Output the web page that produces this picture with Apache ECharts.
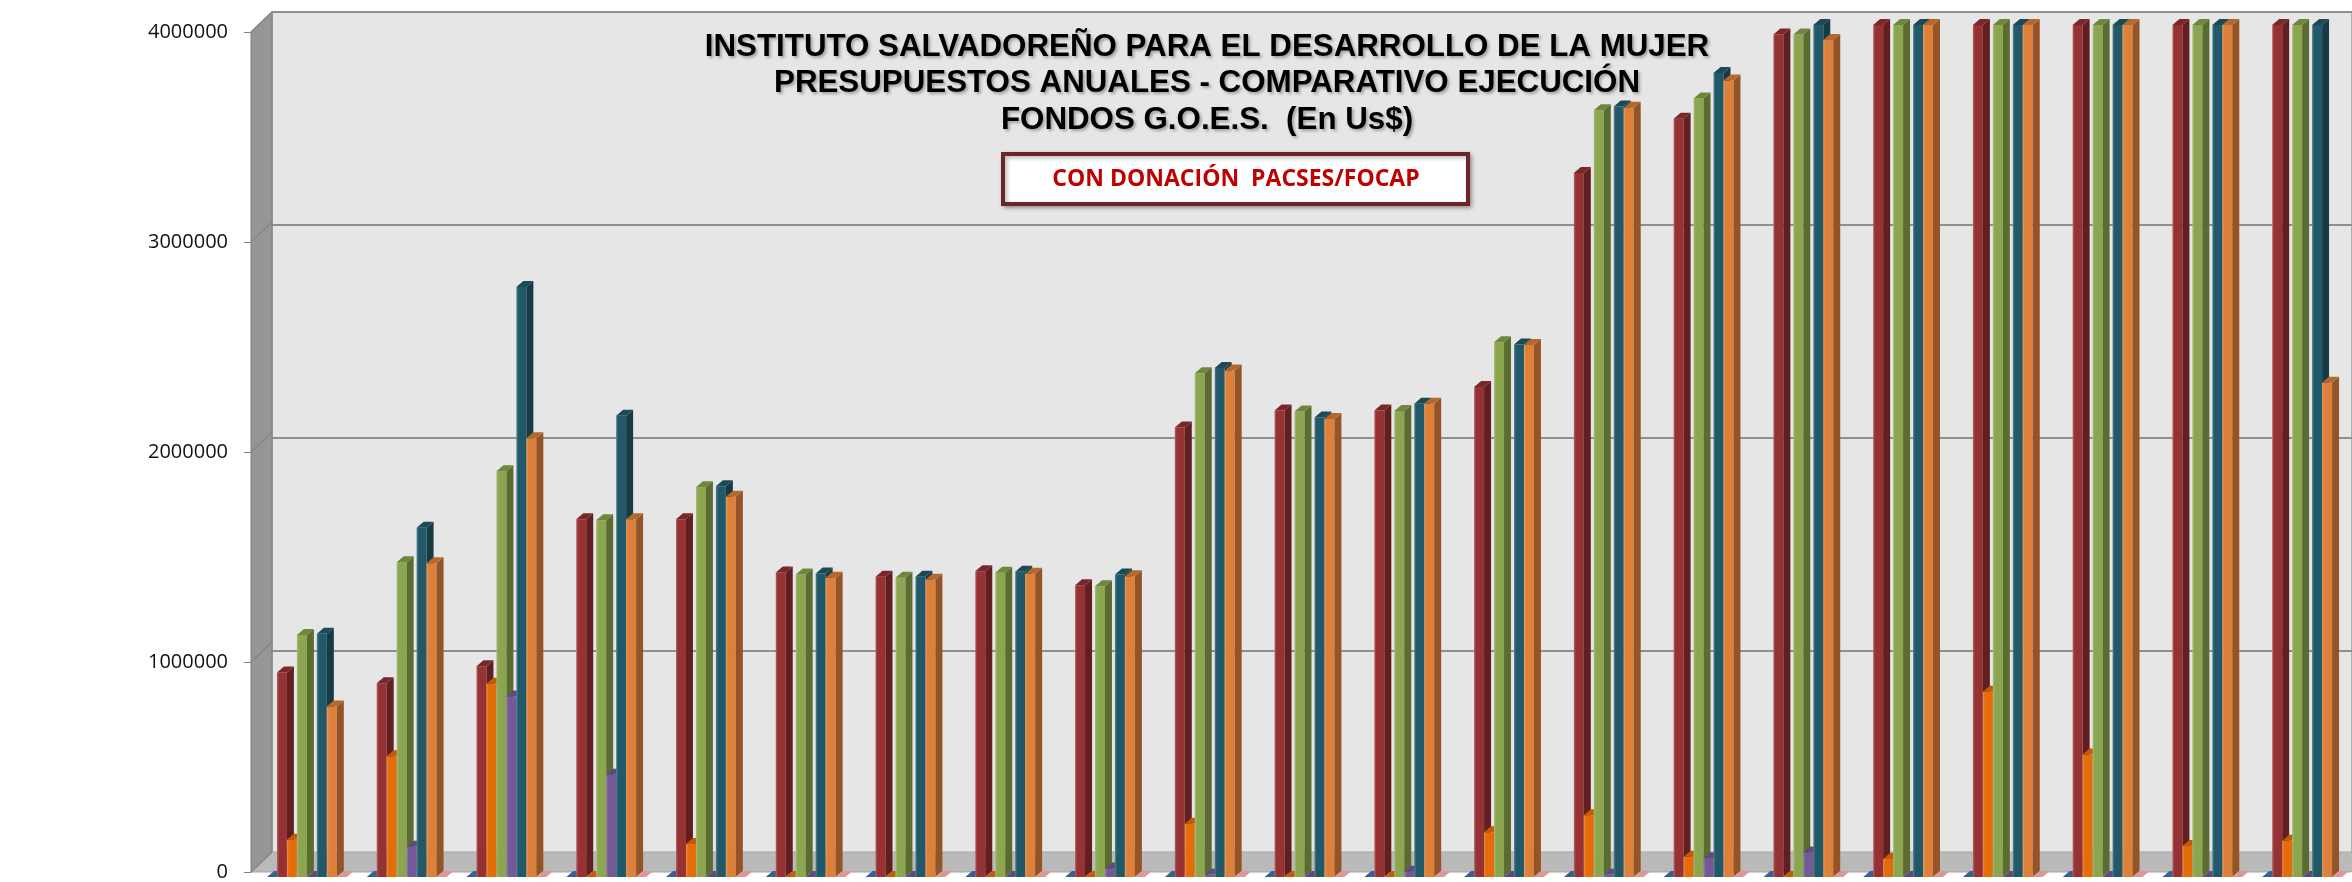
<!DOCTYPE html>
<html>
<head>
<meta charset="utf-8">
<title>ISDEMU - Presupuestos anuales</title>
<script src="https://cdn.jsdelivr.net/npm/echarts@6/dist/echarts.min.js"></script>
<style>
  html, body { margin: 0; padding: 0; background: #fff; }
  #chart { width: 2352px; height: 882px; }
</style>
</head>
<body>
<div id="chart"></div>
<script>
//======================================================================================================================
// Datos (las etiquetas del eje X quedan fuera de la imagen)
//======================================================================================================================

var categories = ['1', '2', '3', '4', '5', '6', '7', '8', '9', '10', '11',
                  '12', '13', '14', '15', '16', '17', '18', '19', '20', '21'];
var yTicks = [0, 1000000, 2000000, 3000000, 4000000];

var serieAzul    = [0, 0, 0, 0, 0, 0, 0, 0, 0, 0, 0, 0, 0, 0, 0, 0, 0, 0, 0, 0, 0];
var serieRoja    = [960000, 910000, 990000, 1680000, 1680000, 1430000, 1410000, 1435000, 1370000, 2110000, 2190000,
                    2190000, 2300000, 3305000, 3560000, 3955000, 4000000, 4000000, 4000000, 4000000, 4000000];
var serieNaranja = [175000, 567000, 907000, 0, 155000, 0, 0, 0, 0, 250000, 0,
                    0, 210000, 290000, 95000, 0, 85000, 870000, 575000, 145000, 170000];
var serieVerde   = [1136000, 1478000, 1905000, 1675000, 1830000, 1420000, 1405000, 1428000, 1365000, 2365000, 2185000,
                    2188000, 2510000, 3600000, 3655000, 3955000, 4000000, 4000000, 4000000, 4000000, 4000000];
var serieMorada  = [0, 142000, 848000, 480000, 0, 0, 0, 0, 40000, 10000, 0,
                    25000, 0, 10000, 88000, 115000, 0, 0, 0, 0, 0];
var serieTeal    = [1142000, 1640000, 2770000, 2165000, 1835000, 1425000, 1410000, 1433000, 1420000, 2390000, 2157000,
                    2222000, 2500000, 3617000, 3775000, 4000000, 4000000, 4000000, 4000000, 4000000, 4000000];
var serieOcre    = [800000, 1473000, 2060000, 1680000, 1785000, 1405000, 1395000, 1424000, 1412000, 2378000, 2150000,
                    2222000, 2498000, 3612000, 3740000, 3930000, 4000000, 4000000, 4000000, 4000000, 2320000];
var serieRosa    = [0, 0, 0, 0, 0, 0, 0, 0, 0, 0, 0, 0, 0, 0, 0, 0, 0, 0, 0, 0, 0];

// frente, lateral, tapa
var seriesDefs = [
    { name: 'Serie 1', data: serieAzul,    colors: ['#4f7ab3', '#2f4d77', '#3a5f92'] },
    { name: 'Serie 2', data: serieRoja,    colors: ['#973234', '#621f21', '#7b2729'] },
    { name: 'Serie 3', data: serieNaranja, colors: ['#e56c0a', '#a94f06', '#c45b07'] },
    { name: 'Serie 4', data: serieVerde,   colors: ['#8ba64e', '#5b6c33', '#6f873c'] },
    { name: 'Serie 5', data: serieMorada,  colors: ['#735a97', '#4c3b66', '#5d4a7e'] },
    { name: 'Serie 6', data: serieTeal,    colors: ['#215968', '#163b45', '#1b4a57'] },
    { name: 'Serie 7', data: serieOcre,    colors: ['#dc803a', '#955427', '#b5682d'] },
    { name: 'Serie 8', data: serieRosa,    colors: ['#dfa3a3', '#b07374', '#d9999a'] }
];

//======================================================================================================================
// Barras con efecto 3D
//======================================================================================================================

var DX = 7, DY = 6;       // profundidad de cada barra
var WX = 21, WY = 20;     // profundidad de las paredes

function lighten(hex, k) {
    var n = parseInt(hex.slice(1), 16);
    var r = (n >> 16) & 255, g = (n >> 8) & 255, b = n & 255;
    r = Math.round(r + (255 - r) * k); g = Math.round(g + (255 - g) * k); b = Math.round(b + (255 - b) * k);
    return 'rgb(' + r + ',' + g + ',' + b + ')';
}

function bar3d(slot) {
    var c = seriesDefs[slot].colors;
    return function (params, api) {
        var cat = api.value(0), val = api.value(1);
        var base = api.coord([cat, 0]);
        var top = api.coord([cat, val]);
        var band = api.size([1, 0])[0];
        var w = band * 0.8 / seriesDefs.length;
        var x0 = base[0] - band * 0.4 + slot * w, x1 = x0 + w;
        var yb = base[1], yt = top[1];
        var children = [];
        if (yb - yt > 0.5) {
            children.push({
                type: 'rect',
                shape: { x: x0, y: yt, width: w, height: yb - yt },
                style: {
                    fill: new echarts.graphic.LinearGradient(0, 0, 1, 0, [
                        { offset: 0, color: lighten(c[0], 0.25) },
                        { offset: 0.2, color: c[0] },
                        { offset: 1, color: c[0] }
                    ])
                }
            });
            children.push({
                type: 'polygon',
                shape: { points: [[x1, yt], [x1 + DX, yt - DY], [x1 + DX, yb - DY], [x1, yb]] },
                style: { fill: c[1] }
            });
        }
        children.push({
            type: 'polygon',
            shape: { points: [[x0, yt], [x0 + DX, yt - DY], [x1 + DX, yt - DY], [x1, yt]] },
            style: { fill: c[2] }
        });
        return { type: 'group', children: children };
    };
}

var barSeries = seriesDefs.map(function (s, i) {
    return {
        type: 'custom',
        name: s.name,
        xAxisIndex: 2,
        yAxisIndex: 2,
        renderItem: bar3d(i),
        encode: { x: 0, y: 1 },
        data: s.data.map(function (v, k) { return [k, v]; }),
        z: 3
    };
});

// pared lateral y piso
var wallSeries = {
    type: 'custom',
    xAxisIndex: 0,
    yAxisIndex: 0,
    silent: true,
    z: 1,
    data: [[0, 0]],
    renderItem: function (params, api) {
        var cs = params.coordSys;
        var x = cs.x, yt = cs.y, yb = cs.y + cs.height;
        return {
            type: 'group',
            children: [
                { type: 'polygon', shape: { points: [[x, yt], [x + WX, yt - WY], [x + WX, yb - WY], [x, yb]] },
                  style: { fill: '#969696', stroke: '#7f7f7f', lineWidth: 1 } },
                { type: 'polygon', shape: { points: [[x, yb], [x + WX, yb - WY], [x + WX + cs.width, yb - WY], [x + cs.width, yb]] },
                  style: { fill: '#bababa', stroke: '#a6a6a6', lineWidth: 1 } }
            ]
        };
    }
};

var wallLines = {
    type: 'custom',
    xAxisIndex: 0,
    yAxisIndex: 0,
    silent: true,
    z: 2,
    data: yTicks.map(function (v) { return [0, v]; }),
    renderItem: function (params, api) {
        var cs = params.coordSys;
        var p = api.coord([0, api.value(1)]);
        return {
            type: 'line',
            shape: { x1: cs.x, y1: p[1], x2: cs.x + WX, y2: p[1] - WY },
            style: { stroke: '#858585', lineWidth: 1.5 }
        };
    }
};

//======================================================================================================================
// Grafico
//======================================================================================================================

var chart = echarts.init(document.getElementById('chart'));

chart.setOption({
    backgroundColor: '#ffffff',
    animation: false,
    grid: [
        { left: 251, top: 32, width: 2100, height: 852 },
        { left: 272, top: 12, width: 2100, height: 852, show: true,
          backgroundColor: '#e6e6e6', borderColor: '#9b9b9b', borderWidth: 1.5 },
        { left: 257, top: 25, width: 2100, height: 852 }
    ],
    xAxis: [
        { type: 'category', gridIndex: 0, data: categories, show: false },
        { type: 'category', gridIndex: 1, data: categories, show: false },
        { type: 'category', gridIndex: 2, data: categories, show: false }
    ],
    yAxis: [
        {
            type: 'value', gridIndex: 0, min: 0, max: 4000000, interval: 1000000,
            axisLine: { show: true, lineStyle: { color: '#808080' } },
            axisTick: { show: true, length: 7, lineStyle: { color: '#808080' } },
            axisLabel: {
                margin: 23, fontFamily: 'Open Sans', fontSize: 20, color: '#111',
                formatter: function (v) { return String(v); }
            },
            splitLine: { show: false }
        },
        {
            type: 'value', gridIndex: 1, min: 0, max: 4000000, interval: 1000000,
            axisLine: { show: false }, axisTick: { show: false }, axisLabel: { show: false },
            splitLine: { show: true, lineStyle: { color: '#8f8f8f', width: 2 } }
        },
        { type: 'value', gridIndex: 2, min: 0, max: 4000000, show: false }
    ],
    graphic: [
        {
            type: 'text', x: 1207, y: 29, z: 10,
            style: {
                text: 'INSTITUTO SALVADOREÑO PARA EL DESARROLLO DE LA MUJER\n' +
                      'PRESUPUESTOS ANUALES - COMPARATIVO EJECUCIÓN\n' +
                      'FONDOS G.O.E.S.  (En Us$)',
                textAlign: 'center', textVerticalAlign: 'top',
                font: 'bold 31.3px "Liberation Sans", Arial, sans-serif',
                lineHeight: 36.5, fill: '#000',
                textShadowColor: 'rgba(0,0,0,0.3)', textShadowBlur: 3,
                textShadowOffsetX: 2, textShadowOffsetY: 2
            }
        },
        {
            type: 'rect', z: 10,
            shape: { x: 1003, y: 154, width: 465, height: 50 },
            style: { fill: '#ffffff', stroke: '#6a2627', lineWidth: 4,
                     shadowBlur: 4, shadowColor: 'rgba(0,0,0,0.3)', shadowOffsetX: 2, shadowOffsetY: 2 }
        },
        {
            type: 'text', x: 1236, y: 179, z: 11,
            style: {
                text: 'CON DONACIÓN  PACSES/FOCAP',
                textAlign: 'center', textVerticalAlign: 'middle',
                font: 'bold 23px "Open Sans", sans-serif', fill: '#c00000'
            }
        }
    ],
    series: [wallSeries, wallLines].concat(barSeries)
});
</script>
</body>
</html>
